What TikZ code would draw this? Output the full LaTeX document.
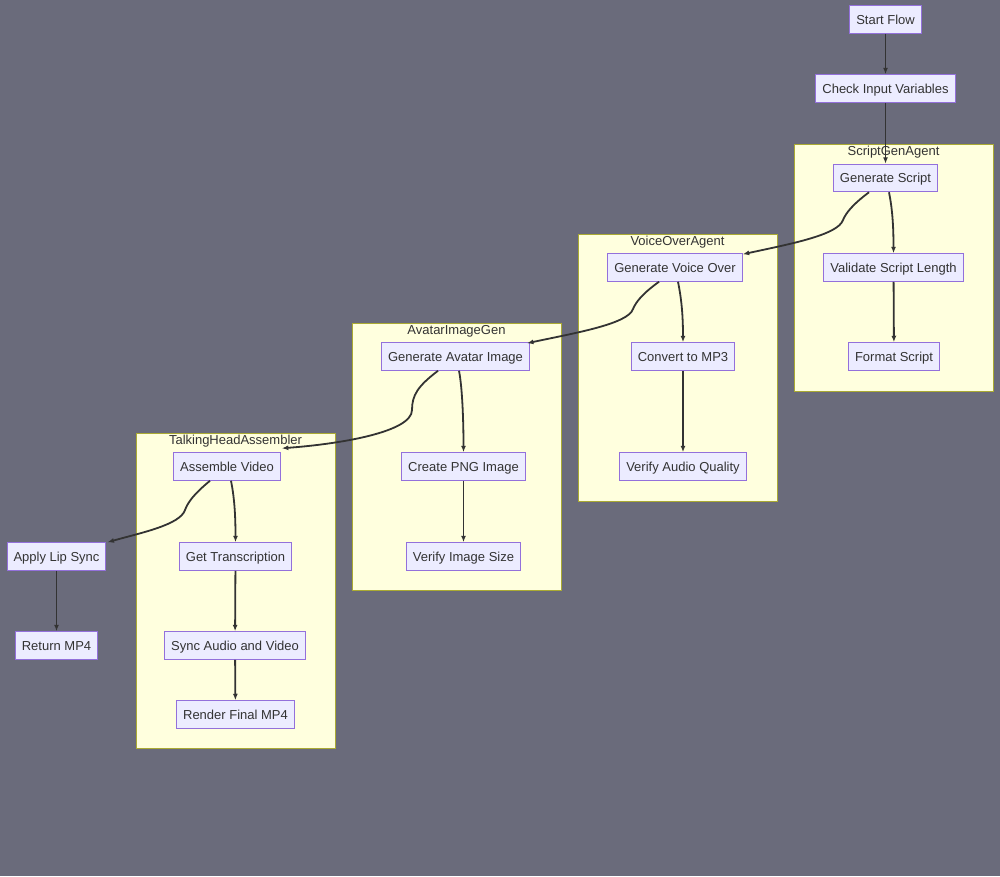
\documentclass[tikz,border=0pt]{standalone}
\usepackage{fontspec}
\setmainfont{Liberation Sans}
\usetikzlibrary{arrows.meta,backgrounds}

\definecolor{bgcol}{RGB}{106,107,123}
\definecolor{boxfill}{HTML}{ECECFF}
\definecolor{boxline}{HTML}{9370DB}
\definecolor{grpfill}{HTML}{FFFFDE}
\definecolor{grpline}{HTML}{AAAA33}
\definecolor{inkcol}{HTML}{333333}

\tikzset{
  stepbox/.style={draw=boxline, fill=boxfill, line width=1pt, inner xsep=6.5pt,
    inner ysep=0pt, minimum height=27.5pt, text height=10.5pt, text depth=1.2pt,
    text=inkcol, font=\fontsize{13}{15}\selectfont},
  group/.style={draw=grpline, fill=grpfill, line width=1pt},
  grouplabel/.style={text=inkcol, font=\fontsize{13}{15}\selectfont, inner sep=0pt, anchor=base},
  flow/.style={draw=inkcol, line width=1.8pt, -{Latex[length=6.5pt,width=5pt]}}
}

\begin{document}
\begin{tikzpicture}[x=1pt, y=-1pt]
\useasboundingbox[fill=bgcol] (0,0) rectangle (1000,876);

% clusters
\draw[group] (794,144) rectangle (993,391);
\node[grouplabel] (lscript) at (893.5,155) {ScriptGenAgent};
\draw[group] (578,234) rectangle (777,501);
\node[grouplabel] (lvoice) at (677.5,245) {VoiceOverAgent};
\draw[group] (352,323) rectangle (561,590);
\node[grouplabel] (lavatar) at (456.5,334) {AvatarImageGen};
\draw[group] (136,433) rectangle (335,748);
\node[grouplabel] (lhead) at (235.5,444) {TalkingHeadAssembler};

% steps
\node[stepbox] (start) at (885.5,19.5) {Start Flow};
\node[stepbox] (check) at (885.5,88.5) {Check Input Variables};
\node[stepbox] (gscript) at (885.5,178) {Generate Script};
\node[stepbox] (vscript) at (893.5,267.5) {Validate Script Length};
\node[stepbox] (fscript) at (894,356.5) {Format Script};
\node[stepbox] (gvoice) at (675,267.5) {Generate Voice Over};
\node[stepbox] (mpthree) at (683,356.5) {Convert to MP3};
\node[stepbox] (vaudio) at (683,466.5) {Verify Audio Quality};
\node[stepbox] (gavatar) at (455.5,356.5) {Generate Avatar Image};
\node[stepbox] (png) at (463.5,466.5) {Create PNG Image};
\node[stepbox] (vimage) at (463.5,556.5) {Verify Image Size};
\node[stepbox] (assemble) at (227,466.5) {Assemble Video};
\node[stepbox] (transcr) at (235.5,556.5) {Get Transcription};
\node[stepbox] (sync) at (235,645.5) {Sync Audio and Video};
\node[stepbox] (render) at (235.5,714.5) {Render Final MP4};
\node[stepbox] (lipsync) at (56.5,556.5) {Apply Lip Sync};
\node[stepbox] (retmp) at (56.5,645.5) {Return MP4};

% straight connectors
\draw[flow] (start) -- (check);
\draw[flow] (check) -- (gscript);
\draw[flow] (vscript) -- (fscript);
\draw[flow] (mpthree) -- (vaudio);
\draw[flow] (png) -- (vimage);
\draw[flow] (transcr) -- (sync);
\draw[flow] (sync) -- (render);
\draw[flow] (lipsync) -- (retmp);

% bent connectors
\draw[flow] ([xshift=3.5pt]gscript.south) .. controls +(3,15) and +(0,-30) .. (vscript.north);
\draw[flow] ([xshift=3pt]gvoice.south) .. controls +(3,15) and +(0,-30) .. (mpthree.north);
\draw[flow] ([xshift=3.5pt]gavatar.south) .. controls +(3,15) and +(0,-35) .. (png.north);
\draw[flow] ([xshift=4pt]assemble.south) .. controls +(3,15) and +(0,-30) .. (transcr.north);

\draw[flow] ([xshift=-16.5pt]gscript.south) .. controls (852,205) and (846,213) .. (843,220)
  .. controls (838,235) and (790,244) .. ([yshift=-1pt]gvoice.north east);
\draw[flow] ([xshift=-16pt]gvoice.south) .. controls (642,294) and (636,302) .. (633,309)
  .. controls (628,324) and (575,333) .. ([xshift=-3pt,yshift=-1pt]gavatar.north east);
\draw[flow] ([xshift=-17.5pt]gavatar.south) .. controls (418,386) and (412,395) .. (412,410)
  .. controls (412,432) and (340,444) .. ([xshift=1pt,yshift=4pt]assemble.north east);
\draw[flow] ([xshift=-17pt]assemble.south) .. controls (194,494) and (188,502) .. (185,510)
  .. controls (180,525) and (140,533) .. ([xshift=1pt]lipsync.north east);
\end{tikzpicture}
\end{document}
